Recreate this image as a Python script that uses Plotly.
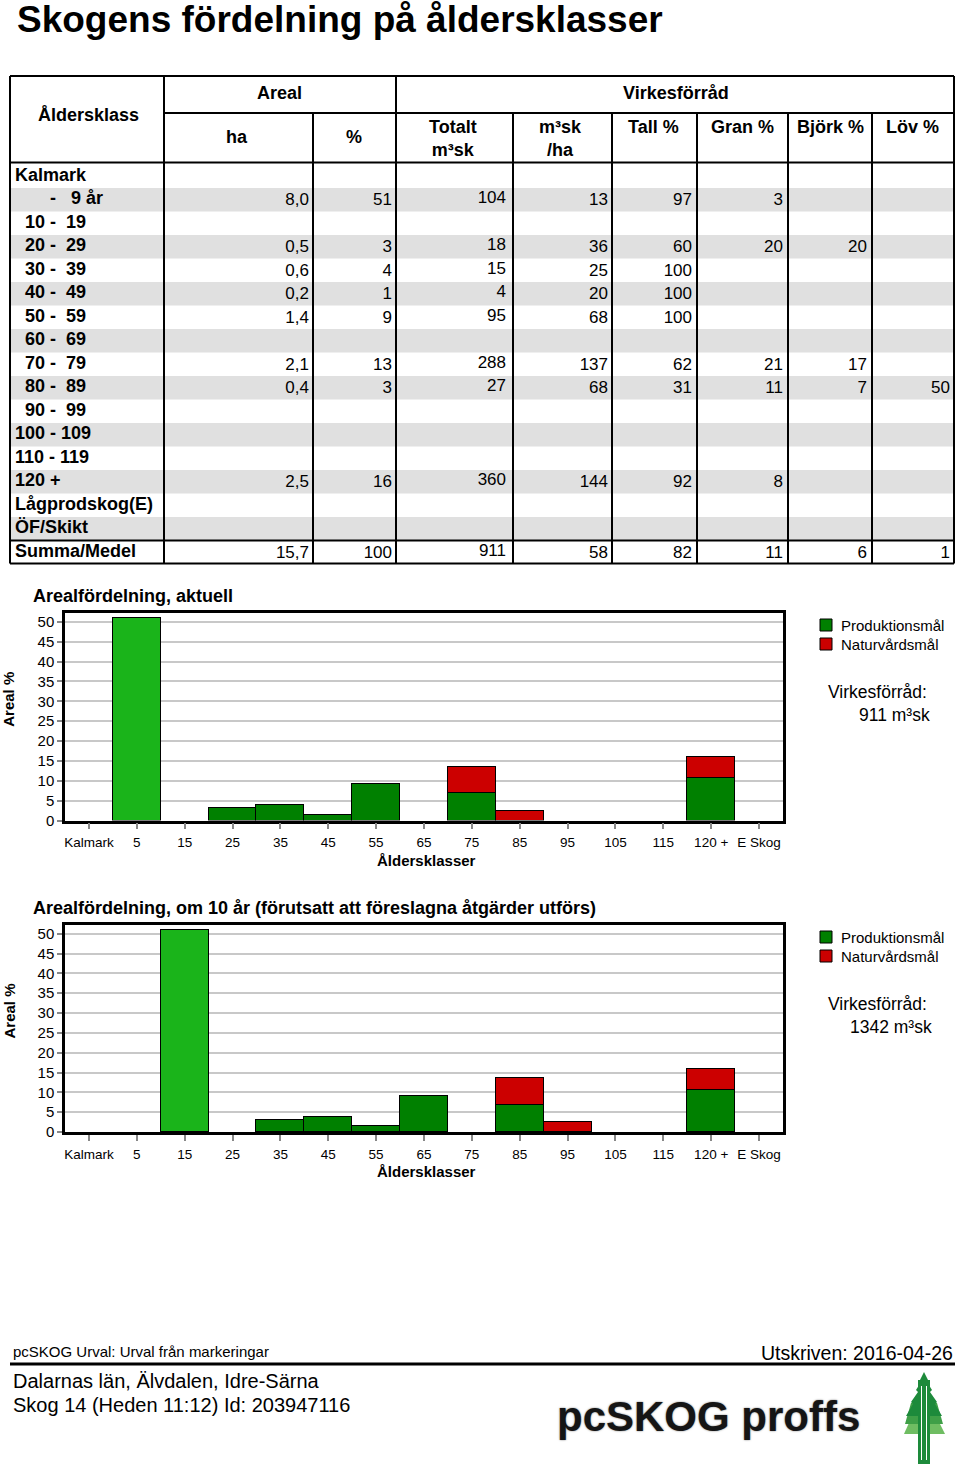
import plotly.graph_objects as go

W, H = 960, 1471
FONT = "Liberation Sans, Arial, sans-serif"

# ---------------- data ----------------
row_labels = [
    "Kalmark",
    "       -   9 år",
    "  10 -  19",
    "  20 -  29",
    "  30 -  39",
    "  40 -  49",
    "  50 -  59",
    "  60 -  69",
    "  70 -  79",
    "  80 -  89",
    "  90 -  99",
    "100 - 109",
    "110 - 119",
    "120 +",
    "Lågprodskog(E)",
    "ÖF/Skikt",
    "Summa/Medel",
]
area_ha = [None, 8.0, None, 0.5, 0.6, 0.2, 1.4, None, 2.1, 0.4, None, None, None, 2.5, None, None, 15.7]
area_pct = [None, 51, None, 3, 4, 1, 9, None, 13, 3, None, None, None, 16, None, None, 100]
vol_total = [None, 104, None, 18, 15, 4, 95, None, 288, 27, None, None, None, 360, None, None, 911]
vol_per_ha = [None, 13, None, 36, 25, 20, 68, None, 137, 68, None, None, None, 144, None, None, 58]
tall_pct = [None, 97, None, 60, 100, 100, 100, None, 62, 31, None, None, None, 92, None, None, 82]
gran_pct = [None, 3, None, 20, None, None, None, None, 21, 11, None, None, None, 8, None, None, 11]
bjork_pct = [None, None, None, 20, None, None, None, None, 17, 7, None, None, None, None, None, None, 6]
lov_pct = [None, None, None, None, None, None, None, None, None, 50, None, None, None, None, None, None, 1]

age_classes = ["Kalmark", "5", "15", "25", "35", "45", "55", "65", "75", "85",
               "95", "105", "115", "120 +", "E Skog"]
y_ticks = [0, 5, 10, 15, 20, 25, 30, 35, 40, 45, 50]

now_young = [None, 51, None, None, None, None, None, None, None, None, None, None, None, None, None]
now_prod = [None, None, None, 3.1, 3.8, 1.3, 9.1, None, 6.8, None, None, None, None, 10.7, None]
now_natur = [None, None, None, None, None, None, None, None, 6.6, 2.5, None, None, None, 5.3, None]

fut_young = [None, None, 51, None, None, None, None, None, None, None, None, None, None, None, None]
fut_prod = [None, None, None, None, 3.1, 3.8, 1.4, 9.0, None, 6.9, None, None, None, 10.7, None]
fut_natur = [None, None, None, None, None, None, None, None, None, 6.7, 2.5, None, None, 5.3, None]

vol_now = 911
vol_future = 1342

legend_names = ["Produktionsmål", "Naturvårdsmål"]

# ---------------- colours / layout constants ----------------
C_YOUNG = "#1ab41a"
C_PROD = "#008000"
C_NATUR = "#cc0000"
C_BAND = "#e0e0e0"

TABLE_L, TABLE_R = 10, 954
TABLE_TOP, HEAD_MID, HEAD_BOT = 76, 113, 162.5
BODY_TOP, ROW_H = 164.5, 23.5
TABLE_BOT = 563.5
col_right = [313, 396, 513, 612, 697, 788, 872, 954]
col_pad = [4, 4, 7, 4, 5, 5, 5, 4]
col_dy = [1, 1, -1, 1, 1, 1, 1, 1]


def fmt_ha(v):
    return "" if v is None else f"{v:.1f}".replace(".", ",")


def fmt_int(v):
    return "" if v is None else str(v)


fig = go.Figure()

# ---------------- table (on hidden pixel-unit axis x3/y3) ----------------
n_rows = len(row_labels)
row_y = [BODY_TOP + ROW_H * (i + 0.5) for i in range(n_rows)]

fig.add_trace(go.Scatter(
    x=[15] * n_rows, y=row_y, mode="text",
    text=[s.replace(" ", "\u00a0") for s in row_labels],
    textposition="middle right",
    textfont=dict(family=FONT, size=18, color="black", weight="bold"),
    xaxis="x3", yaxis="y3", hoverinfo="skip", showlegend=False, cliponaxis=False))

columns = [
    [fmt_ha(v) for v in area_ha],
    [fmt_int(v) for v in area_pct],
    [fmt_int(v) for v in vol_total],
    [fmt_int(v) for v in vol_per_ha],
    [fmt_int(v) for v in tall_pct],
    [fmt_int(v) for v in gran_pct],
    [fmt_int(v) for v in bjork_pct],
    [fmt_int(v) for v in lov_pct],
]
for ci, col in enumerate(columns):
    fig.add_trace(go.Scatter(
        x=[col_right[ci] - col_pad[ci]] * n_rows,
        y=[y + col_dy[ci] for y in row_y],
        mode="text", text=col, textposition="middle left",
        textfont=dict(family=FONT, size=17, color="black"),
        xaxis="x3", yaxis="y3", hoverinfo="skip", showlegend=False, cliponaxis=False))

shapes = []
# gray bands
for i in range(n_rows):
    if i % 2 == 1:
        shapes.append(dict(type="rect", xref="x3", yref="y3", layer="below",
                           x0=TABLE_L, x1=TABLE_R,
                           y0=BODY_TOP + ROW_H * i, y1=BODY_TOP + ROW_H * (i + 1),
                           fillcolor=C_BAND, line=dict(width=0)))


def line(x0, y0, x1, y1, w=2, color="black"):
    shapes.append(dict(type="line", xref="x3", yref="y3", x0=x0, y0=y0, x1=x1, y1=y1,
                       line=dict(color=color, width=w), layer="above"))


line(TABLE_L, TABLE_TOP, TABLE_R, TABLE_TOP)
line(TABLE_L, TABLE_TOP, TABLE_L, TABLE_BOT)
line(TABLE_R, TABLE_TOP, TABLE_R, TABLE_BOT)
line(164, TABLE_TOP, 164, TABLE_BOT)
line(396, TABLE_TOP, 396, TABLE_BOT)
for xv in [313, 513, 612, 697, 788, 872]:
    line(xv, HEAD_MID, xv, TABLE_BOT)
line(164, HEAD_MID, TABLE_R, HEAD_MID)
line(TABLE_L, HEAD_BOT, TABLE_R, HEAD_BOT)
line(TABLE_L, BODY_TOP + ROW_H * (n_rows - 1), TABLE_R, BODY_TOP + ROW_H * (n_rows - 1))
line(TABLE_L, TABLE_BOT, TABLE_R, TABLE_BOT)

annotations = []


def ann(x, y, text, size, bold=False, xanchor="left", yanchor="middle",
        color="black", family=FONT, angle=0, align="center", shadow=None):
    f = dict(size=size, color=color, family=family)
    if shadow:
        f["shadow"] = shadow
    annotations.append(dict(x=x, y=y, xref="x3", yref="y3",
                            text=f"<b>{text}</b>" if bold else text,
                            showarrow=False, xanchor=xanchor, yanchor=yanchor,
                            font=f, textangle=angle, align=align))


# page title
ann(15, 19, "Skogens fördelning på åldersklasser", 37, bold=True)

# table header
ann(88, 115, "Åldersklass", 18, bold=True, xanchor="center")
ann(279, 93, "Areal", 18, bold=True, xanchor="center")
ann(676, 93, "Virkesförråd", 18, bold=True, xanchor="center")
ann(237, 137, "ha", 18, bold=True, xanchor="center")
ann(354, 137, "%", 18, bold=True, xanchor="center")
ann(453, 138.5, "Totalt<br>m³sk", 18, bold=True, xanchor="center")
ann(560, 138, "m³sk<br>/ha", 18, bold=True, xanchor="center")
ann(653, 127, "Tall %", 18, bold=True, xanchor="center")
ann(742, 127, "Gran %", 18, bold=True, xanchor="center")
ann(830, 127, "Björk %", 18, bold=True, xanchor="center")
ann(912, 127, "Löv %", 18, bold=True, xanchor="center")

# ---------------- bar charts ----------------
charts = [
    dict(xa="x", ya="y", young=now_young, prod=now_prod, natur=now_natur, top=613, bot=820.5,
         title="Arealfördelning, aktuell", vol=vol_now, volx=857),
    dict(xa="x2", ya="y2", young=fut_young, prod=fut_prod, natur=fut_natur, top=925, bot=1132,
         title="Arealfördelning, om 10 år (förutsatt att föreslagna åtgärder utförs)",
         vol=vol_future, volx=848),
]
bar_line = dict(color="black", width=1.5)
for ch in charts:
    fig.add_trace(go.Bar(x=age_classes, y=ch["young"], marker=dict(color=C_YOUNG, line=bar_line),
                         xaxis=ch["xa"], yaxis=ch["ya"], showlegend=False, name=legend_names[0]))
    fig.add_trace(go.Bar(x=age_classes, y=ch["prod"], marker=dict(color=C_PROD, line=bar_line),
                         xaxis=ch["xa"], yaxis=ch["ya"], showlegend=False, name=legend_names[0]))
    fig.add_trace(go.Bar(x=age_classes, y=ch["natur"], marker=dict(color=C_NATUR, line=bar_line),
                         xaxis=ch["xa"], yaxis=ch["ya"], showlegend=False, name=legend_names[1]))

    t, b = ch["top"], ch["bot"]
    ann(31, t - 17, ch["title"], 18, bold=True)
    ann(9, (t + b) / 2 - 17, "Areal %", 15, bold=True, xanchor="center", angle=-90)
    ann(426, b + 39.5, "Åldersklasser", 15, bold=True, xanchor="center")

    # legend boxes
    for k, (nm, colr) in enumerate(zip(legend_names, [C_PROD, C_NATUR])):
        yc = t + 12 + 19 * k
        shapes.append(dict(type="rect", xref="x3", yref="y3", x0=820, x1=832, y0=yc - 6, y1=yc + 6,
                           fillcolor=colr, line=dict(color="black", width=1)))
        ann(839, yc, nm, 15)
    ann(826, t + 79, "Virkesförråd:", 17.5)
    ann(ch["volx"], t + 101.5, f"{ch['vol']} m³sk", 17.5)

axis_common = dict(showline=True, mirror=True, linecolor="black", linewidth=2.5)

layout = dict(
    width=W, height=H, margin=dict(l=0, r=0, t=0, b=0, autoexpand=False),
    paper_bgcolor="white", plot_bgcolor="rgba(0,0,0,0)",
    barmode="stack", bargap=0, showlegend=False,
    font=dict(family=FONT, color="black"),
    xaxis3=dict(domain=[0, 1], range=[0, W], visible=False, fixedrange=True),
    yaxis3=dict(domain=[0, 1], range=[H, 0], visible=False, fixedrange=True),
)
for idx, ch in enumerate(charts):
    xk = "xaxis" if idx == 0 else "xaxis2"
    yk = "yaxis" if idx == 0 else "yaxis2"
    layout[xk] = dict(
        domain=[65 / W, 783 / W], anchor=ch["ya"], type="category",
        categoryorder="array", categoryarray=age_classes,
        ticks="outside", ticklen=6, tickwidth=1.5, tickcolor="#888",
        tickfont=dict(family=FONT, size=13.5, color="black"),
        ticklabelstandoff=2, showgrid=False, fixedrange=True, automargin=False,
        **axis_common)
    layout[yk] = dict(
        domain=[1 - ch["bot"] / H, 1 - ch["top"] / H], anchor=ch["xa"],
        range=[0, 52.2], tickmode="array", tickvals=y_ticks,
        ticks="outside", ticklen=5, tickwidth=1.5, tickcolor="#888",
        tickfont=dict(family=FONT, size=15, color="black"),
        showgrid=True, gridcolor="#c8c8c8", gridwidth=1.5, zeroline=False,
        fixedrange=True, automargin=False, **axis_common)

# ---------------- footer ----------------
ann(11, 1351, "pcSKOG Urval: Urval från markeringar", 15)
ann(955, 1353, "Utskriven: 2016-04-26", 19.5, xanchor="right")
line(10, 1364, 955, 1364, w=3)
ann(11, 1381, "Dalarnas län, Älvdalen, Idre-Särna", 20)
ann(11, 1405, "Skog 14 (Heden 11:12) Id: 203947116", 20)
ann(708, 1416, "pcSKOG proffs", 42, bold=True, xanchor="center", color="#151515",
    shadow="0px 0px 2px #777")


# tree logo
def path(d, color):
    shapes.append(dict(type="path", xref="x3", yref="y3", path=d, fillcolor=color,
                       line=dict(width=0), layer="above"))


path("M912,1416 L936,1416 L945,1434 L904,1434 Z", "#6fbd62")
path("M911,1403 L937,1403 L943,1424 L905,1424 Z", "#3f9f47")
path("M924,1372 L928,1380 L927,1382 L932,1390 L930,1392 L937,1402 L935,1404 L942,1416 "
     "L906,1416 L913,1404 L911,1402 L918,1392 L916,1390 L921,1382 L920,1380 Z", "#1d8a3b")
shapes.append(dict(type="rect", xref="x3", yref="y3", x0=918, x1=930, y0=1380, y1=1464,
                   fillcolor="#1d8a3b", line=dict(width=0), layer="above"))
line(921.5, 1386, 921.5, 1460, w=1, color="white")
line(926.5, 1386, 926.5, 1460, w=1, color="white")

layout["shapes"] = shapes
layout["annotations"] = annotations
fig.update_layout(**layout)

fig.write_html(
    "out.html",
    config={"displayModeBar": False},
    post_script=("document.body.style.margin='0';document.body.style.padding='0';"
                 "document.documentElement.style.overflow='hidden';"
                 "document.body.style.overflow='hidden';"),
)
